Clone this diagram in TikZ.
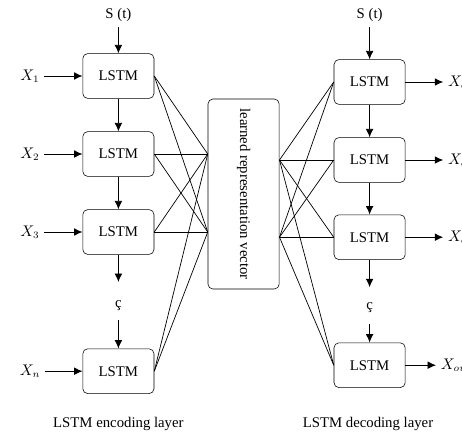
\documentclass[tikz,border=0pt]{standalone}
\usepackage{fontspec}
\setmainfont{Liberation Serif}
\usetikzlibrary{positioning,arrows.meta}
\tikzset{
lstm/.style = {draw, rounded corners=3.5pt, minimum width=1.78cm, minimum height=1.12cm, inner sep=2pt},
vecbox/.style = {draw, rounded corners=3.5pt, minimum width=1.78cm, minimum height=4.75cm},
link/.style = {line width=0.5pt},
flow/.style = {->, line width=0.6pt}
}

\begin{document}
\begin{tikzpicture}[>={Latex[length=6pt,width=5.5pt]}, font=\fontsize{10.5}{12}\selectfont]
      \useasboundingbox (0,0) rectangle (11.55,-10.85);
      % encoding layer
      \node [lstm] (enc1) at (2.96,-1.9) {LSTM};
      \node [lstm] (enc2) at (2.96,-3.85) {LSTM};
      \node [lstm] (enc3) at (2.96,-5.8) {LSTM};
      \node [lstm] (enc4) at (2.96,-9.28) {LSTM};
      \node (encS) at (2.96,-0.375) {S (t)};
      \node (x1) at (0.75,-1.9) {$X_1$};
      \node (x2) at (0.75,-3.85) {$X_2$};
      \node (x3) at (0.75,-5.8) {$X_3$};
      \node (xn) at (0.75,-9.28) {$X_n$};
      \node (encdots) at (2.96,-7.65) {ç};
      \coordinate (enc3out) at (2.96,-7.05);
      \coordinate (enc4in) at (2.96,-8.0);
      \node (enclabel) at (2.96,-10.6) {LSTM encoding layer};

      % learned vector
      \node [vecbox] (vec) at (6.09,-4.85) {};
      \node [rotate=-90] (vectext) at (vec) {learned representation vector};

      % decoding layer
      \node [lstm] (dec1) at (9.24,-2.05) {LSTM};
      \node [lstm] (dec2) at (9.24,-4.0) {LSTM};
      \node [lstm] (dec3) at (9.24,-5.93) {LSTM};
      \node [lstm] (dec4) at (9.24,-9.13) {LSTM};
      \node (decS) at (9.24,-0.375) {S (t)};
      \node [anchor=west] (y1) at (11.08,-2.05) {$X_{out1}$};
      \node [anchor=west] (y2) at (11.08,-4.0) {$X_{out2}$};
      \node [anchor=west] (y3) at (11.08,-5.93) {$X_{out3}$};
      \node [anchor=west] (yn) at (10.9,-9.13) {$X_{outn}$};
      \node (decdots) at (9.24,-7.68) {ç};
      \coordinate (dec3out) at (9.24,-7.18);
      \coordinate (dec4in) at (9.24,-8.1);
      \node (declabel) at (9.2,-10.6) {LSTM decoding layer};

      % ports on the vector box
      \coordinate (vecin1) at (vec.west |- enc2);
      \coordinate (vecin2) at (vec.west |- enc3);
      \coordinate (vecout1) at (vec.east |- dec2);
      \coordinate (vecout2) at (vec.east |- dec3);

      \draw [flow] (encS) -- (enc1);
      \draw [flow] (enc1) -- (enc2);
      \draw [flow] (enc2) -- (enc3);
      \draw [flow] (enc3) -- (enc3out);
      \draw [flow] (enc4in) -- (enc4);
      \draw [flow] (x1) -- (enc1);
      \draw [flow] (x2) -- (enc2);
      \draw [flow] (x3) -- (enc3);
      \draw [flow] (xn) -- (enc4);

      \draw [flow] (decS) -- (dec1);
      \draw [flow] (dec1) -- (dec2);
      \draw [flow] (dec2) -- (dec3);
      \draw [flow] (dec3) -- (dec3out);
      \draw [flow] (dec4in) -- (dec4);
      \draw [flow] (dec1) -- (y1);
      \draw [flow] (dec2) -- (y2);
      \draw [flow] (dec3) -- (y3);
      \draw [flow] (dec4) -- (yn);

      \foreach \n in {enc1,enc2,enc3,enc4}
        \foreach \p in {vecin1,vecin2}
          \draw [link] (\n.east) -- (\p);
      \foreach \n in {dec1,dec2,dec3,dec4}
        \foreach \p in {vecout1,vecout2}
          \draw [link] (\p) -- (\n.west);
    \end{tikzpicture}
\end{document}
